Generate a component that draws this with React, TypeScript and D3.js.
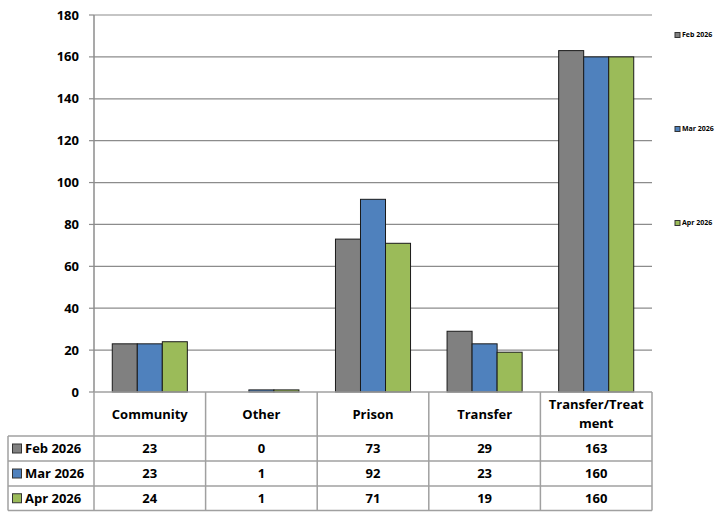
import React from "react";
import * as d3 from "d3";

const categories = ["Community", "Other", "Prison", "Transfer", "Transfer/Treatment"];
const headerLines = [["Community"], ["Other"], ["Prison"], ["Transfer"], ["Transfer/Treat", "ment"]];
const seriesNames = ["Feb 2026", "Mar 2026", "Apr 2026"];
const feb = [23, 0, 73, 29, 163];
const mar = [23, 1, 92, 23, 160];
const apr = [24, 1, 71, 19, 160];
const series = [feb, mar, apr];
const colors = ["#808080", "#4F81BD", "#9BBB59"];
const yTicks = [0, 20, 40, 60, 80, 100, 120, 140, 160, 180];

const FONT = "'Open Sans', Lato, sans-serif";

export default function App() {
  const W = 719, H = 512;
  const left = 94, right = 652, top = 15, bottom = 392;
  const x = d3.scaleBand().domain(categories).range([left, right]).paddingInner(0).paddingOuter(0);
  const xs = d3.scaleBand().domain(seriesNames).range([0, x.bandwidth()]).paddingInner(0).paddingOuter(0.73);
  const y = d3.scaleLinear().domain([0, 180]).range([bottom, top]);
  const rowTops = [392, 436, 461, 486, 510.5];
  const gridColor = "#8c8c8c";
  const tableColor = "#a0a0a0";
  const legendY = [35, 129, 223];
  const fs = 13;

  return (
    <svg width={W} height={H} style={{ position: "absolute", left: 0, top: 0 }} fontFamily={FONT}>
      <rect x={0} y={0} width={W} height={H} fill="#fff" />
      {yTicks.map((t) => (
        <g key={t}>
          {t > 0 && <line x1={left} x2={right} y1={y(t)} y2={y(t)} stroke={gridColor} strokeWidth={1.2} />}
          <line x1={89} x2={left} y1={y(t)} y2={y(t)} stroke={gridColor} strokeWidth={1.2} />
          <text x={79} y={y(t)} dy="0.35em" textAnchor="end" fontSize={fs} fontWeight="bold" fill="#000">{t}</text>
        </g>
      ))}
      {categories.map((c, i) => (
        <g key={c}>
          {series.map((s, j) => (
            <rect key={j}
              x={(x(c) as number) + (xs(seriesNames[j]) as number)}
              y={y(s[i])}
              width={xs.bandwidth()}
              height={bottom - y(s[i])}
              fill={colors[j]}
              stroke="#1a1a1a"
              strokeWidth={1}
            />
          ))}
        </g>
      ))}
      <line x1={left} x2={left} y1={top} y2={bottom} stroke={gridColor} strokeWidth={1.5} />
      <line x1={left} x2={right} y1={bottom} y2={bottom} stroke={tableColor} strokeWidth={1.5} />
      {rowTops.slice(1).map((r, k) => (
        <line key={k} x1={8} x2={right} y1={r} y2={r} stroke={tableColor} strokeWidth={1.5} />
      ))}
      {categories.map((c) => (
        <line key={c} x1={(x(c) as number)} x2={(x(c) as number)} y1={bottom} y2={rowTops[4]} stroke={tableColor} strokeWidth={1.5} />
      ))}
      <line x1={right} x2={right} y1={bottom} y2={rowTops[4]} stroke={tableColor} strokeWidth={1.5} />
      <line x1={8} x2={8} y1={rowTops[1]} y2={rowTops[4]} stroke={tableColor} strokeWidth={1.5} />
      {categories.map((c, i) => {
        const lines = headerLines[i];
        const cx = (x(c) as number) + x.bandwidth() / 2;
        const cy = 414;
        return (
          <text key={c} x={cx} textAnchor="middle" fontSize={fs} fontWeight="bold" fill="#000">
            {lines.map((l, k) => (
              <tspan key={k} x={cx} y={cy + (k - (lines.length - 1) / 2) * 19.5} dy="0.35em">{l}</tspan>
            ))}
          </text>
        );
      })}
      {series.map((s, j) => {
        const cy = (rowTops[j + 1] + rowTops[j + 2]) / 2;
        return (
          <g key={j}>
            <rect x={12.5} y={cy - 4.5} width={9} height={9} fill={colors[j]} stroke="#333" strokeWidth={1} />
            <text x={25} y={cy} dy="0.35em" fontSize={fs} fontWeight="bold" fill="#000">{seriesNames[j]}</text>
            {categories.map((c, i) => (
              <text key={c} x={(x(c) as number) + x.bandwidth() / 2} y={cy} dy="0.35em" textAnchor="middle" fontSize={fs} fontWeight="bold" fill="#000">{s[i]}</text>
            ))}
          </g>
        );
      })}
      {seriesNames.map((n, j) => (
        <g key={n}>
          <rect x={675} y={legendY[j] - 2.5} width={5} height={5} fill={colors[j]} stroke="#333" strokeWidth={1} />
          <text x={682} y={legendY[j]} dy="0.35em" fontSize={7} fontWeight="bold" fill="#000">{n}</text>
        </g>
      ))}
    </svg>
  );
}
